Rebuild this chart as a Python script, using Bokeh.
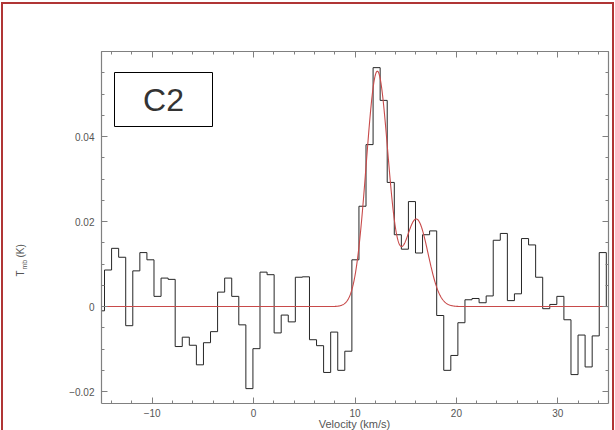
import numpy as np
from bokeh.plotting import figure
from bokeh.models import (Range1d, SingleIntervalTicker, CustomJSTickFormatter,
                          BoxAnnotation, Label, LinearAxis)
from bokeh.embed import file_html
from bokeh.resources import INLINE

# ---------------- data ----------------
chan_first_left = -15.40   # km/s, left edge of first channel
chan_width = 0.697         # km/s
tmb = [
    -0.0010, 0.0086, 0.0137, 0.0116, -0.0045, 0.0084, 0.0127, 0.0110, 0.0024, 0.0067,
    0.0064, -0.0094, -0.0072, -0.0091, -0.0137, -0.0085, -0.0059, 0.0034, 0.0067, 0.0024,
    -0.0043, -0.0193, -0.0099, 0.0081, 0.0075, -0.0062, -0.0020, -0.0036, 0.0069, 0.0070,
    -0.0078, -0.0092, -0.0155, -0.0060, -0.0150, -0.0105, 0.0110, 0.0236, 0.0381, 0.0562,
    0.0485, 0.0292, 0.0169, 0.0135, 0.0247, 0.0126, 0.0169, 0.0178, -0.0021, -0.0150,
    -0.0115, -0.0038, 0.0016, 0.0019, 0.0009, 0.0025, 0.0156, 0.0172, 0.0014, 0.0030,
    0.0160, 0.0145, 0.0069, -0.0005, 0.0005, 0.0024, -0.0031, -0.0160, -0.0067, -0.0142,
    -0.0069, 0.0127, 0.0000,
]
# two-component Gaussian fit
fit_center = [12.20, 16.06]
fit_peak = [0.0553, 0.0205]
fit_sigma = [1.093, 1.15]

x_start, x_end = -15.0, 35.0
y_start, y_end = -0.0228, 0.060
label_text = "C2"

# ---------------- layout ----------------
W, H = 615, 430
fl, fr, ft, fb = 101, 608, 51, 403   # frame edges in px


def dx(px):
    return x_start + (px - fl) * (x_end - x_start) / (fr - fl)


def dy(py):
    return y_end - (py - ft) * (y_end - y_start) / (fb - ft)


RED = "#b03535"
p = figure(width=W, height=H, x_range=Range1d(x_start, x_end), y_range=Range1d(y_start, y_end),
           output_backend="svg", toolbar_location=None,
           min_border_left=fl, min_border_right=W - fr, min_border_top=ft, min_border_bottom=H - fb,
           background_fill_color="white", border_fill_color=None, outline_line_color=None)
p.grid.visible = False
# thin red page border (left, top, right) drawn as CSS background lines
p.styles = {
    "background-color": "white",
    "background-image": ("linear-gradient(%s,%s), linear-gradient(%s,%s), linear-gradient(%s,%s)"
                         % (RED, RED, RED, RED, RED, RED)),
    "background-size": "611px 2px, 2px 440px, 2px 440px",
    "background-position": "1px 2px, 1px 2px, 612px 2px",
    "background-repeat": "no-repeat",
}

xfmt = CustomJSTickFormatter(code="""
if (Math.abs(tick) < 1e-9) { return "0"; }
return String(Math.round(tick)).replace("-", "\\u2212");
""")
yfmt = CustomJSTickFormatter(code="""
if (tick > 0.055) { return ""; }
if (Math.abs(tick) < 1e-9) { return "0"; }
var s = String(parseFloat(tick.toFixed(4)));
return s.replace("-", "\\u2212");
""")
blank = CustomJSTickFormatter(code="return '';")

AX = "#808080"


def style(ax, ticker, formatter, show, standoff=7):
    ax.ticker = ticker
    ax.formatter = formatter
    ax.axis_line_color = AX
    ax.axis_line_width = 1.2
    ax.major_tick_line_color = AX
    ax.minor_tick_line_color = AX
    ax.major_tick_in = 6
    ax.major_tick_out = 0
    ax.minor_tick_in = 3
    ax.minor_tick_out = 0
    ax.major_label_text_font = "Liberation Sans"
    ax.major_label_text_color = "#555555"
    ax.major_label_text_font_size = "10px" if show else "0px"
    ax.major_label_standoff = standoff if show else 0
    ax.axis_label = None


style(p.xaxis[0], SingleIntervalTicker(interval=10, num_minor_ticks=5), xfmt, True, standoff=5)
style(p.yaxis[0], SingleIntervalTicker(interval=0.02, num_minor_ticks=4), yfmt, True)
top_ax = LinearAxis()
right_ax = LinearAxis()
style(top_ax, SingleIntervalTicker(interval=10, num_minor_ticks=5), blank, False)
style(right_ax, SingleIntervalTicker(interval=0.02, num_minor_ticks=4), blank, False)
p.add_layout(top_ax, "above")
p.add_layout(right_ax, "right")

# ---------------- glyphs ----------------
edges = chan_first_left + chan_width * np.arange(len(tmb) + 1)
p.step(x=list(edges), y=tmb + [tmb[-1]], mode="after", line_color="#262626", line_width=1)

vfit = np.linspace(x_start, x_end, 1200)
tfit = np.zeros_like(vfit)
for c, a, s in zip(fit_center, fit_peak, fit_sigma):
    tfit += a * np.exp(-0.5 * ((vfit - c) / s) ** 2)
p.line(vfit, tfit, line_color="#c84a4a", line_width=1.1)

# ---------------- annotations ----------------
p.add_layout(BoxAnnotation(left=dx(114), right=dx(212), top=dy(72), bottom=dy(126),
                           fill_color="white", fill_alpha=1.0, line_color="black",
                           line_alpha=1.0, line_width=1))
p.add_layout(Label(x=dx(163), y=dy(99), text=label_text, text_align="center", text_baseline="middle",
                   text_font="Liberation Sans", text_font_size="32px", text_color="#333333"))

# axis titles (placed in side panels so they are not clipped to the frame)
p.add_layout(Label(x=dx(20), y=dy(276), text="T", angle=np.pi / 2, text_align="left",
                   text_baseline="middle", text_font="Liberation Sans", text_font_size="10px",
                   text_color="#555555"), "left")
p.add_layout(Label(x=dx(23.5), y=dy(269), text="mb", angle=np.pi / 2, text_align="left",
                   text_baseline="middle", text_font="Liberation Sans", text_font_size="7px",
                   text_color="#555555"), "left")
p.add_layout(Label(x=dx(20), y=dy(257), text="(K)", angle=np.pi / 2, text_align="left",
                   text_baseline="middle", text_font="Liberation Sans", text_font_size="10px",
                   text_color="#555555"), "left")
p.add_layout(Label(x=dx(354), y=dy(429.5), text="Velocity (km/s)", text_align="center",
                   text_baseline="bottom", text_font="Liberation Sans", text_font_size="11px",
                   text_color="#555555"), "above")

open("out.html", "w").write(file_html(p, INLINE))
